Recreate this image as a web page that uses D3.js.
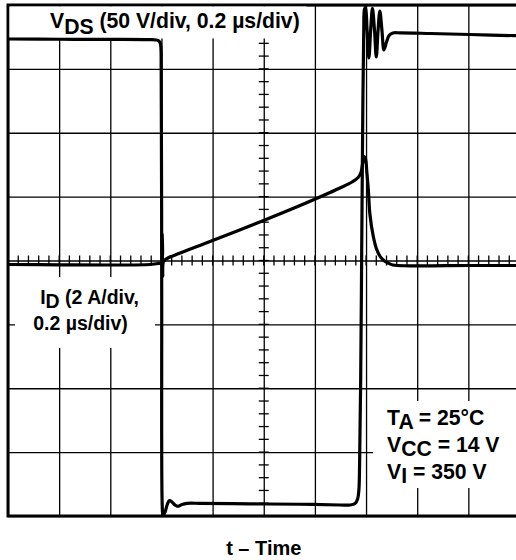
<!DOCTYPE html>
<html>
<head>
<meta charset="utf-8">
<script src="https://cdn.jsdelivr.net/npm/d3@7"></script>
<style>
  html, body { margin: 0; padding: 0; background: #fff; }
  svg { display: block; }
  text { font-family: "Liberation Sans", Arial, Helvetica, sans-serif; font-weight: bold; fill: #000; }
</style>
</head>
<body>
<svg id="scope" width="516" height="560"></svg>
<script>
// Switching waveforms, time in ns (0.2 us/div, 10 div)
const vdsTime = [0, 203, 399, 555, 579, 590, 596, 599, 601, 603, 606, 614, 622, 631, 641, 653, 665, 680, 700, 751, 946, 1142, 1298, 1337, 1357, 1367, 1372, 1375, 1379, 1383, 1387, 1391, 1394, 1398, 1404, 1411, 1418, 1425, 1433, 1440, 1447, 1454, 1462, 1470, 1480, 1490, 1505, 1533, 1650, 1806, 2000];
// Drain-source voltage, V (50 V/div)
const vdsVolts = [373.4, 373.2, 373.1, 372.9, 372.6, 371.8, 369.5, 349.1, 176.9, 8.6, 0.8, 3.1, 8.6, 12.1, 11.0, 8.6, 7.6, 9.0, 9.9, 9.9, 9.5, 9.2, 8.6, 8.6, 9.8, 13.3, 20.4, 43.8, 106.5, 208.2, 310.0, 380.4, 396.9, 398.1, 380.4, 358.5, 380.4, 397.3, 380.4, 359.3, 380.4, 395.3, 380.4, 364.8, 371.0, 376.1, 378.1, 378.2, 377.7, 376.9, 375.9];

const idTime = [0, 203, 399, 555, 587, 600, 602.5, 605, 607.5, 618, 673, 790, 997, 1142, 1298, 1345, 1369, 1380, 1387, 1392, 1398, 1403, 1409, 1415, 1428, 1441, 1454, 1467, 1486, 1505, 1572, 1806, 2000];
// Drain current, A (2 A/div)
const idAmps = [-0.125, -0.135, -0.141, -0.125, -0.094, -0.063, 0.83, -0.485, -0.047, 0.047, 0.235, 0.595, 1.246, 1.722, 2.270, 2.458, 2.599, 2.755, 3.053, 3.256, 3.178, 2.771, 2.207, 1.456, 0.767, 0.360, 0.141, 0.016, -0.078, -0.141, -0.166, -0.157, -0.157];

// Screen graticule: 10 x 8 divisions, 5 minor marks per division on the centre lines
const timeDivisions = d3.range(0, 2001, 200);
const voltDivisions = d3.range(0, 401, 50);
const minorPerDiv = 5;

const vdsLabel = ["V", "DS", " (50 V/div, 0.2 \u00b5s/div)"];
const idLabel = [["I", "D", " (2 A/div,"], ["", "", "0.2 \u00b5s/div)"]];
const conditionLabels = [["T", "A", " = 25\u00b0C"], ["V", "CC", " = 14 V"], ["V", "I", " = 350 V"]];
const xTitle = "t \u2013 Time";

const svg = d3.select("#scope");
const plotLeft = 8, plotRight = 519.5, plotTop = 5, plotBottom = 516;

const x = d3.scaleLinear().domain([0, 2000]).range([plotLeft, plotRight]);
const yV = d3.scaleLinear().domain([0, 400]).range([plotBottom, plotTop]);
const yI = d3.scaleLinear().domain([-8, 8]).range([plotBottom, plotTop]);

// Grid lines drawn with axes
const grid = svg.append("g");
grid.append("g")
  .attr("transform", `translate(0,${plotBottom})`)
  .call(d3.axisBottom(x).tickValues(timeDivisions).tickSize(-(plotBottom - plotTop)).tickFormat(""))
  .call(g => g.select(".domain").remove())
  .call(g => g.selectAll("line").attr("stroke", "#000").attr("stroke-width", 1.3));
grid.append("g")
  .attr("transform", `translate(${plotLeft},0)`)
  .call(d3.axisLeft(yV).tickValues(voltDivisions).tickSize(-(plotRight - plotLeft)).tickFormat(""))
  .call(g => g.select(".domain").remove())
  .call(g => g.selectAll("line").attr("stroke", "#000").attr("stroke-width", 1.3));

// Minor marks on the centre lines
const midT = 1000, midV = 200;
const minorT = d3.range(0, 2000 + 1e-6, 200 / minorPerDiv);
const minorV = d3.range(0, 400 + 1e-6, 50 / minorPerDiv);
grid.selectAll("line.mt").data(minorT).join("line")
  .attr("class", "mt")
  .attr("x1", d => x(d)).attr("x2", d => x(d))
  .attr("y1", yV(midV) - 5).attr("y2", yV(midV) + 5)
  .attr("stroke", "#000").attr("stroke-width", 1.3);
grid.selectAll("line.mv").data(minorV).join("line")
  .attr("class", "mv")
  .attr("y1", d => yV(d)).attr("y2", d => yV(d))
  .attr("x1", x(midT) - 5).attr("x2", x(midT) + 5)
  .attr("stroke", "#000").attr("stroke-width", 1.3);

// Frame
svg.append("rect")
  .attr("x", plotLeft).attr("y", plotTop)
  .attr("width", plotRight - plotLeft).attr("height", plotBottom - plotTop)
  .attr("fill", "none").attr("stroke", "#000").attr("stroke-width", 3);

// Label backgrounds
svg.append("rect").attr("x", 9.5).attr("y", 6.5).attr("width", 297).attr("height", 32).attr("fill", "#fff");
svg.append("rect").attr("x", 15).attr("y", 277).attr("width", 140).attr("height", 71).attr("fill", "#fff");
svg.append("rect").attr("x", 373).attr("y", 401).attr("width", 150).attr("height", 87).attr("fill", "#fff");

// Traces
const curve = d3.curveCatmullRom.alpha(0.5);
const vdsLine = d3.line().x(d => x(d[0])).y(d => yV(d[1])).curve(curve);
const idLine = d3.line().x(d => x(d[0])).y(d => yI(d[1])).curve(curve);
svg.append("path")
  .attr("d", vdsLine(d3.zip(vdsTime, vdsVolts)))
  .attr("fill", "none").attr("stroke", "#000").attr("stroke-width", 3.2)
  .attr("stroke-linejoin", "round");
svg.append("path")
  .attr("d", idLine(d3.zip(idTime, idAmps)))
  .attr("fill", "none").attr("stroke", "#000").attr("stroke-width", 3.2)
  .attr("stroke-linejoin", "round");

// Text with subscripts
function subText(g, parts, px, py, size, subDy, anchor) {
  const t = g.append("text").attr("x", px).attr("y", py)
    .attr("font-size", size).attr("text-anchor", anchor || "start");
  t.append("tspan").text(parts[0]);
  if (parts[1]) t.append("tspan").attr("dy", subDy).text(parts[1]);
  t.append("tspan").attr("dy", parts[1] ? -subDy : 0).text(parts[2]);
  return t;
}
subText(svg, vdsLabel, 50, 27.5, 21.2, 6);
subText(svg, idLabel[0], 89.5, 303.5, 19.5, 4, "middle");
subText(svg, idLabel[1], 80.5, 329.5, 19.5, 4, "middle");
conditionLabels.forEach((p, i) => subText(svg, p, 387, 424.5 + i * 27, 21.2, 4));

svg.append("text").attr("x", x(midT)).attr("y", 555)
  .attr("text-anchor", "middle").attr("font-size", 20).text(xTitle);
</script>
</body>
</html>
